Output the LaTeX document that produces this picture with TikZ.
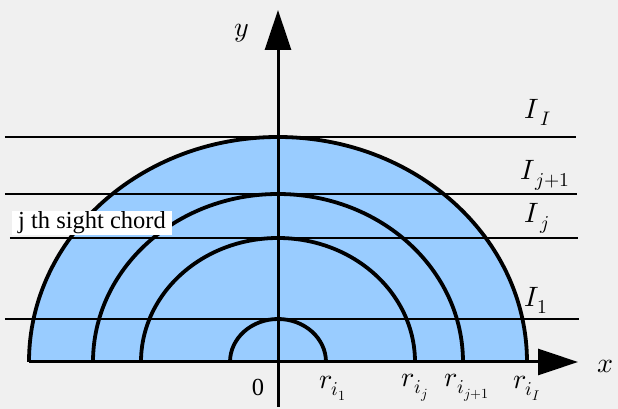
\documentclass[tikz,border=0pt]{standalone}
\usepackage{fontspec}
\usepackage{unicode-math}
\setmainfont{Liberation Serif}
\setmathfont{Latin Modern Math}
\usetikzlibrary{arrows.meta}
\definecolor{diskblue}{HTML}{99CCFF}
\definecolor{bggray}{HTML}{F0F0F0}

\begin{document}
\begin{tikzpicture}[x=1pt, y=1pt,
    axis/.style={line width=3pt, -{Triangle[length=40pt, width=26pt]}},
    ring/.style={line width=3.8pt},
    chord/.style={line width=2.4pt},
    lbl/.style={inner sep=0pt, font=\fontsize{24.5}{28}\selectfont},
    mlbl/.style={inner sep=0pt, font=\fontsize{28}{32}\selectfont}]
  % background and page size
  \fill[bggray] (-278,-47) rectangle (340,362);
  \useasboundingbox (-278,-47) rectangle (340,362);
  % filled half disk
  \fill[diskblue] (-249,0) arc[start angle=180, end angle=0, x radius=249, y radius=225] -- cycle;
  % emission rings (half ellipses)
  \draw[ring] (249,0) arc[start angle=0, end angle=180, x radius=249, y radius=225];
  \draw[ring] (185,0) arc[start angle=0, end angle=180, x radius=185, y radius=168];
  \draw[ring] (137,0) arc[start angle=0, end angle=180, x radius=137, y radius=124];
  \draw[ring] (48,0) arc[start angle=0, end angle=180, x radius=48, y radius=43];
  % sight chords
  \coordinate (cIa) at (-273,225); \coordinate (cIb) at (298,225);
  \coordinate (cJa) at (-273,168); \coordinate (cJb) at (299,168);
  \coordinate (cja) at (-268,124); \coordinate (cjb) at (300,124);
  \coordinate (c1a) at (-273,43);  \coordinate (c1b) at (301,43);
  \draw[chord] (cIa) -- (cIb);
  \draw[chord] (cJa) -- (cJb);
  \draw[chord] (cja) -- (cjb);
  \draw[chord] (c1a) -- (c1b);
  % axes
  \coordinate (xa) at (-249,0); \coordinate (xb) at (300,0);
  \coordinate (ya) at (0,-45);  \coordinate (yb) at (0,352);
  \draw[axis] (xa) -- (xb);
  \draw[axis] (ya) -- (yb);
  \node[mlbl] (xl) at (328,-4) {$x$};
  \node[mlbl] (yl) at (-36,329) {$y$};
  \node[lbl] (zero) at (-20,-25) {0};
  % intensities
  \node[mlbl] (iI) at (260,250) {$I_{\,I}$};
  \node[mlbl] (iJ) at (267,187) {$I_{\,j+1}$};
  \node[mlbl] (ij) at (259,144) {$I_{\,j}$};
  \node[mlbl] (i1) at (258,62) {$I_{1}$};
  % radii
  \node[mlbl] (r1) at (55,-26) {$r_{i_1}$};
  \node[mlbl] (rj) at (137,-26) {$r_{i_j}$};
  \node[mlbl] (rJ) at (189,-26) {$r_{i_{j+1}}$};
  \node[mlbl] (rI) at (249,-26) {$r_{i_I}$};
  % chord label
  \node[lbl, fill=white, minimum width=160pt, minimum height=24pt] (sc) at (-186,139) {j th sight chord};
\end{tikzpicture}
\end{document}
